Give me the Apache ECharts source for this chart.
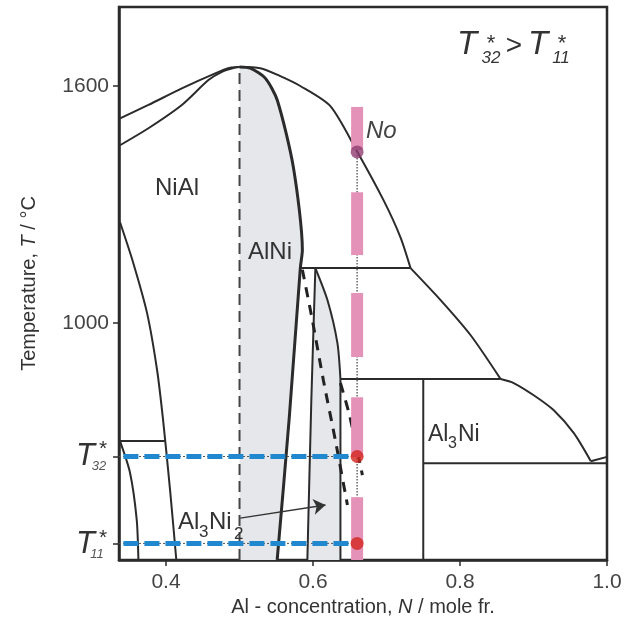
<!DOCTYPE html>
<html><head><meta charset="utf-8">
<script src="https://cdn.jsdelivr.net/npm/echarts@6/dist/echarts.min.js"></script>
<style>html,body{margin:0;padding:0;background:#fff}#c{width:633px;height:625px}</style>
</head><body><div id="c"></div>
<script>
// axis ticks
const xTicks = [0.4, 0.6, 0.8, 1.0];
const yTicks = [1000, 1600];
const T32 = 662, T11 = 442;
const N0 = 0.66;            // alloy composition (pink bar)
const TNo = 1433;           // liquidus point "No"

// phase boundaries [N, T]
const liqNiAlUpper = [[0.3374,1518],[0.376,1552],[0.4215,1594],[0.4669,1632],[0.4873,1646],[0.5,1648]];
const solNiAlLower = [[0.3374,1450],[0.376,1493],[0.4215,1552],[0.4577,1615],[0.476,1636],[0.4941,1647],[0.5,1648]];
const liqRight = [[0.5,1648],[0.5282,1645],[0.5555,1625],[0.5827,1600],[0.6236,1549],[0.6604,1433],[0.6959,1311],[0.719,1217],[0.7327,1139]];
const alNiRight = [[0.5,1648],[0.5146,1645],[0.535,1620],[0.5514,1564],[0.5732,1395],[0.5855,1185],[0.5827,1139],[0.5677,761],[0.5512,400]];
const al3ni2Left = [[0.6032,1139],[0.5977,805],[0.5923,400]];
const al3ni2Right = [[0.6032,1139],[0.6196,1058],[0.6332,949],[0.6373,858]];
const al3ni2RightV = [[0.6373,858],[0.6373,400]];
const h1139 = [[0.5827,1139],[0.7327,1139]];
const h858 = [[0.6373,858],[0.8553,858]];
const peritectic = [[0.7327,1139],[0.7736,1058],[0.8145,969],[0.8553,858]];
const liqAl3Ni = [[0.8553,858],[0.873,848],[0.9003,817],[0.9276,779],[0.9549,721],[0.978,650]];
const liqAlEnd = [[0.978,650],[1.0,661]];
const al3niV = [[0.75,400],[0.75,858]];
const eutectic = [[0.75,645],[1.0,645]];
const niAlLeft = [[0.3374,1255],[0.3551,1154],[0.3742,1025],[0.3878,881],[0.396,754],[0.4055,577],[0.414,400]];
const h701 = [[0.336,701],[0.3985,701]];
const ni3AlCurve = [[0.3374,701],[0.351,621],[0.3601,502],[0.3624,400]];
const dashedVert = [[0.5,400],[0.5,1648]];
const dashA = [[0.5855,1135],[0.5991,1007],[0.6141,855],[0.6304,703],[0.6468,539]];
const dashB = [[0.6373,848],[0.6496,767],[0.6672,615]];
// fills
const fillAlNi = [[0.5,400]].concat(alNiRight);
const fillAl3Ni2 = al3ni2Left.slice().reverse().concat(al3ni2Right, al3ni2RightV);
// pink bar segments [N, Tlow, Thigh]
const pinkSegs = [[N0,1438,1547],[N0,1172,1331],[N0,914,1076],[N0,660,812],[N0,400,559]];
const blue32 = [[0.342,T32],[0.649,T32]];
const blue11 = [[0.342,T11],[0.649,T11]];
const guide32 = [[0.336,T32],[N0,T32]];
const guide11 = [[0.336,T11],[N0,T11]];
const pinkGuide = [[N0,TNo],[N0,T11]];
const arrowFrom = [0.501,506], arrowTo = [0.617,539];

const FONT = 'Liberation Sans, Arial, Helvetica, sans-serif';
const DARK = '#2b2b2b';

function lineS(data, opt) {
  opt = opt || {};
  return Object.assign({
    type: 'line', data: data, showSymbol: false, symbol: 'none', silent: true,
    smooth: opt.smooth || false, z: opt.z || 3,
    lineStyle: { color: opt.color || DARK, width: opt.width || 2, type: opt.type || 'solid', cap: 'butt' },
    animation: false
  }, opt.extra || {});
}
function polyS(data, color) {
  return {
    type: 'custom', data: data, silent: true, z: 1, clip: true, animation: false,
    encode: { x: 0, y: 1 },
    renderItem: function (params, api) {
      if (params.dataIndex !== 0) return null;
      const pts = data.map(p => api.coord(p));
      return { type: 'polygon', shape: { points: pts }, style: { fill: color } };
    }
  };
}

const chart = echarts.init(document.getElementById('c'), null, { renderer: 'canvas' });
const option = {
  animation: false,
  backgroundColor: '#fff',
  grid: { left: 119, right: 26, top: 7, bottom: 65, show: true, borderColor: DARK, borderWidth: 2.5, backgroundColor: '#fff' },
  xAxis: {
    type: 'value', min: 0.336, max: 1.0,
    name: '{n|Al - concentration, }{i|N}{n| / mole fr.}',
    nameLocation: 'middle', nameGap: 36,
    nameTextStyle: { rich: { n: { fontFamily: FONT, fontSize: 20, color: '#333' }, i: { fontFamily: FONT, fontSize: 20, fontStyle: 'italic', color: '#333' } } },
    axisLine: { show: true, lineStyle: { color: DARK, width: 2.5 } },
    axisTick: { show: true, customValues: xTicks, length: 6, lineStyle: { color: DARK, width: 1.5 } },
    axisLabel: { customValues: xTicks, formatter: v => v.toFixed(1), fontFamily: FONT, fontSize: 21, color: '#444', margin: 12 },
    splitLine: { show: false }
  },
  yAxis: {
    type: 'value', min: 400, max: 1800,
    name: '{n|Temperature, }{i|T}{n| / °C}',
    nameLocation: 'middle', nameGap: 80,
    nameTextStyle: { rich: { n: { fontFamily: FONT, fontSize: 20, color: '#333' }, i: { fontFamily: FONT, fontSize: 20, fontStyle: 'italic', color: '#333' } } },
    axisLine: { show: true, lineStyle: { color: DARK, width: 2.5 } },
    axisTick: { show: true, customValues: [T11, T32].concat(yTicks), length: 6, lineStyle: { color: DARK, width: 1.5 } },
    axisLabel: { customValues: yTicks, formatter: v => String(v), fontFamily: FONT, fontSize: 21, color: '#444', margin: 10 },
    splitLine: { show: false }
  },
  series: [
    polyS(fillAlNi, '#e6e7ea'),
    polyS(fillAl3Ni2, '#e6e7ea'),
    lineS(dashedVert, { color: '#444', width: 2, type: [11, 6] }),
    lineS(liqNiAlUpper, { smooth: 0.25 }),
    lineS(solNiAlLower, { smooth: 0.25 }),
    lineS(liqRight, { smooth: 0.25 }),
    lineS(alNiRight, { smooth: 0.25, width: 3 }),
    lineS(al3ni2Left, { smooth: 0.25, extra: { markLine: {
      silent: true, symbol: ['none', 'arrow'], symbolSize: 12, animation: false,
      lineStyle: { color: '#333', width: 1.5, type: 'solid' }, label: { show: false },
      data: [[{ coord: arrowFrom }, { coord: arrowTo }]]
    } } }),
    lineS(al3ni2Right, { smooth: 0.25 }),
    lineS(al3ni2RightV),
    lineS(h1139),
    lineS(h858),
    lineS(peritectic, { smooth: 0.25 }),
    lineS(liqAl3Ni, { smooth: 0.25 }),
    lineS(liqAlEnd),
    lineS(al3niV),
    lineS(eutectic),
    lineS(niAlLeft, { smooth: 0.25 }),
    lineS(h701),
    lineS(ni3AlCurve, { smooth: 0.25 }),
    lineS(dashA, { smooth: 0.25, width: 3, color: '#222', type: [10, 8] }),
    lineS(dashB, { smooth: 0.25, width: 3, color: '#222', type: [10, 8] }),
    lineS(guide32, { color: '#555', width: 1, type: [2, 2], z: 4 }),
    lineS(guide11, { color: '#555', width: 1, type: [2, 2], z: 4 }),
    lineS(blue32, { color: '#2088cf', width: 5, type: [15, 6], z: 5 }),
    lineS(blue11, { color: '#2088cf', width: 5, type: [15, 6], z: 5 }),
    lineS(pinkGuide, { color: '#666', width: 1.5, type: [1.5, 1.5], z: 5 }),
    {
      type: 'custom', data: pinkSegs, silent: true, z: 6, animation: false,
      encode: { x: 0, y: [1, 2] },
      renderItem: function (params, api) {
        const top = api.coord([api.value(0), api.value(2)]);
        const bot = api.coord([api.value(0), api.value(1)]);
        return { type: 'rect', shape: { x: top[0] - 6, y: top[1], width: 12, height: bot[1] - top[1] }, style: { fill: '#e592b8' } };
      }
    },
    { type: 'scatter', data: [[N0, TNo]], symbolSize: 13, itemStyle: { color: '#8e3c70' }, z: 7, silent: true, animation: false },
    { type: 'scatter', data: [[N0, T32], [N0, T11]], symbolSize: 13, itemStyle: { color: '#d4261e' }, z: 7, silent: true, animation: false }
  ],
  graphic: [
    { type: 'text', z: 10, style: { text: 'NiAl', x: 177, y: 188, align: 'center', verticalAlign: 'middle', font: '24px ' + FONT, fill: '#333' } },
    { type: 'text', z: 10, style: { text: 'AlNi', x: 270, y: 252, align: 'center', verticalAlign: 'middle', font: '24px ' + FONT, fill: '#333' } },
    { type: 'text', z: 10, style: { text: 'No', x: 366, y: 131, align: 'left', verticalAlign: 'middle', font: 'italic 24px ' + FONT, fill: '#444' } },
    { type: 'text', z: 10, style: { text: 'Al', x: 178, y: 522, verticalAlign: 'middle', font: '24px ' + FONT, fill: '#333' } },
    { type: 'text', z: 10, style: { text: '3', x: 199, y: 532, verticalAlign: 'middle', font: '17px ' + FONT, fill: '#333' } },
    { type: 'text', z: 10, style: { text: 'Ni', x: 209, y: 522, verticalAlign: 'middle', font: '24px ' + FONT, fill: '#333' } },
    { type: 'text', z: 10, style: { text: '2', x: 234, y: 534, verticalAlign: 'middle', font: '17px ' + FONT, fill: '#333' } },
    { type: 'text', z: 10, style: { text: 'Al', x: 428, y: 435, verticalAlign: 'middle', font: '23px ' + FONT, fill: '#333' } },
    { type: 'text', z: 10, style: { text: '3', x: 448, y: 444, verticalAlign: 'middle', font: '16px ' + FONT, fill: '#333' } },
    { type: 'text', z: 10, style: { text: 'Ni', x: 458, y: 435, verticalAlign: 'middle', font: '23px ' + FONT, fill: '#333' } },
    // title T*32 > T*11
    { type: 'text', z: 10, style: { text: 'T', x: 457, y: 45, verticalAlign: 'middle', font: 'italic 33px ' + FONT, fill: '#333' } },
    { type: 'text', z: 10, style: { text: '*', x: 491, y: 44, align: 'center', verticalAlign: 'middle', font: '22px ' + FONT, fill: '#333' } },
    { type: 'text', z: 10, style: { text: '32', x: 491, y: 58, align: 'center', verticalAlign: 'middle', font: 'italic 17px ' + FONT, fill: '#333' } },
    { type: 'text', z: 10, style: { text: '>', x: 514, y: 46, align: 'center', verticalAlign: 'middle', font: '28px ' + FONT, fill: '#333' } },
    { type: 'text', z: 10, style: { text: 'T', x: 528, y: 45, verticalAlign: 'middle', font: 'italic 33px ' + FONT, fill: '#333' } },
    { type: 'text', z: 10, style: { text: '*', x: 562, y: 44, align: 'center', verticalAlign: 'middle', font: '22px ' + FONT, fill: '#333' } },
    { type: 'text', z: 10, style: { text: '11', x: 561, y: 58, align: 'center', verticalAlign: 'middle', font: 'italic 17px ' + FONT, fill: '#333' } },
    // y tick labels T*32, T*11
    { type: 'text', z: 10, style: { text: 'T', x: 76, y: 456, verticalAlign: 'middle', font: 'italic 31px ' + FONT, fill: '#333' } },
    { type: 'text', z: 10, style: { text: '*', x: 103, y: 449, align: 'center', verticalAlign: 'middle', font: '21px ' + FONT, fill: '#333' } },
    { type: 'text', z: 10, style: { text: '32', x: 99, y: 466, align: 'center', verticalAlign: 'middle', font: 'italic 13px ' + FONT, fill: '#555' } },
    { type: 'text', z: 10, style: { text: 'T', x: 76, y: 544, verticalAlign: 'middle', font: 'italic 31px ' + FONT, fill: '#333' } },
    { type: 'text', z: 10, style: { text: '*', x: 103, y: 538, align: 'center', verticalAlign: 'middle', font: '21px ' + FONT, fill: '#333' } },
    { type: 'text', z: 10, style: { text: '11', x: 97, y: 554, align: 'center', verticalAlign: 'middle', font: 'italic 13px ' + FONT, fill: '#555' } }
  ]
};
chart.setOption(option);
</script>
</body></html>
